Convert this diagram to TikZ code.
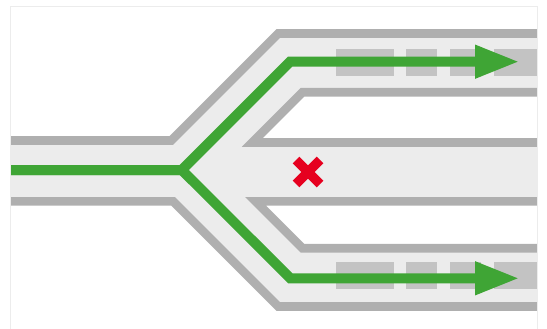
\documentclass[tikz,border=0pt]{standalone}
\usepackage{xcolor}
\usetikzlibrary{calc, arrows.meta}
\definecolor{roadgrey}{HTML}{AFAFAF}
\definecolor{roadfill}{HTML}{ECECEC}
\definecolor{slabgrey}{HTML}{C3C3C3}
\definecolor{routegreen}{HTML}{3FA535}
\definecolor{stopred}{HTML}{E6001F}
\tikzset{
  kerb/.style={draw=roadgrey, line width=8.6pt},
  slab/.style={fill=slabgrey},
  route/.style={draw=routegreen, line width=10pt, -{Triangle[length=44.5pt, width=31pt]}},
  stopbar/.style={draw=stopred, line width=9.5pt}
}

\begin{document}
\begin{tikzpicture}[x=1pt, y=-1pt, line join=miter, line cap=butt]
\def\rightedge{537.5}
\useasboundingbox (0,0) rectangle (547,329);

% Road outline
\coordinate (TL) at (10.5,140.5);
\coordinate (TK) at (171.3,140.5);
\coordinate (TC) at (278.3,33.5);
\coordinate (TR) at (\rightedge,33.5);
\coordinate (UR) at (\rightedge,92.3);
\coordinate (UC) at (302.5,92.3);
\coordinate (UT) at (252.3,142.5);
\coordinate (MR) at (\rightedge,142.5);
\coordinate (NR) at (\rightedge,201.3);
\coordinate (LT) at (255.5,201.3);
\coordinate (LC) at (302.5,248.2);
\coordinate (LR) at (\rightedge,248.2);
\coordinate (BR) at (\rightedge,306.5);
\coordinate (BC) at (278.3,306.5);
\coordinate (BK) at (173,201.3);
\coordinate (BL) at (10.5,201.3);

% Road surface
\fill[roadfill] (TL) -- (TK) -- (TC) -- (TR) -- (UR) -- (UC) -- (UT) -- (MR)
  -- (NR) -- (LT) -- (LC) -- (LR) -- (BR) -- (BC) -- (BK) -- (BL) -- cycle;

% Kerbs
\draw[kerb] (TL) -- (TK) -- (TC) -- (TR);
\draw[kerb] (UR) -- (UC) -- (UT) -- (MR);
\draw[kerb] (NR) -- (LT) -- (LC) -- (LR);
\draw[kerb] (BR) -- (BC) -- (BK) -- (BL);

% Slabs on both branches
\foreach \slabtop in {49,262} {
  \foreach \slableft/\slabright in {336/394, 406/437, 450/481, 494/\rightedge} {
    \fill[slab] (\slableft,\slabtop) rectangle (\slabright,\slabtop+27);
  }
}

% Routes
\coordinate (start) at (10.5,170);
\coordinate (fork) at (181.8,170);
\coordinate (upbend) at (290,61.7);
\coordinate (uptip) at (519.5,61.7);
\coordinate (lowbend) at (290.3,278.3);
\coordinate (lowtip) at (519.5,278.3);
\draw[route] (start) -- (fork) -- (upbend) -- (uptip);
\draw[route] (start) -- (fork) -- (lowbend) -- (lowtip);

% Closed middle lane
\coordinate (cross) at (308,172);
\draw[stopbar] ($(cross)+(-12,-12)$) -- ($(cross)+(12,12)$);
\draw[stopbar] ($(cross)+(-12,12)$) -- ($(cross)+(12,-12)$);

% Frame
\draw[roadfill, line width=1pt] (10.5,335) -- (10.5,6.5) -- (\rightedge,6.5) -- (\rightedge,335);
\end{tikzpicture}
\end{document}
